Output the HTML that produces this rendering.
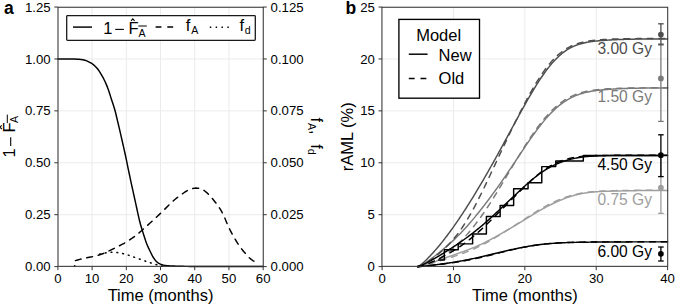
<!DOCTYPE html><html><head><meta charset="utf-8"><style>html,body{margin:0;padding:0;background:#fff;}svg{display:block}</style></head><body>
<svg width="675" height="305" viewBox="0 0 675 305" style="font-family:'Liberation Sans',sans-serif">
<rect width="675" height="305" fill="#fff"/>
<line x1="92.11" y1="7.05" x2="92.11" y2="266.60" stroke="#ebebeb" stroke-width="1.00"/>
<line x1="126.32" y1="7.05" x2="126.32" y2="266.60" stroke="#ebebeb" stroke-width="1.00"/>
<line x1="160.52" y1="7.05" x2="160.52" y2="266.60" stroke="#ebebeb" stroke-width="1.00"/>
<line x1="194.73" y1="7.05" x2="194.73" y2="266.60" stroke="#ebebeb" stroke-width="1.00"/>
<line x1="228.94" y1="7.05" x2="228.94" y2="266.60" stroke="#ebebeb" stroke-width="1.00"/>
<line x1="57.90" y1="214.69" x2="263.15" y2="214.69" stroke="#ebebeb" stroke-width="1.00"/>
<line x1="57.90" y1="162.78" x2="263.15" y2="162.78" stroke="#ebebeb" stroke-width="1.00"/>
<line x1="57.90" y1="110.87" x2="263.15" y2="110.87" stroke="#ebebeb" stroke-width="1.00"/>
<line x1="57.90" y1="58.96" x2="263.15" y2="58.96" stroke="#ebebeb" stroke-width="1.00"/>
<g fill="none" stroke="#000" stroke-width="1.46" stroke-linejoin="round" stroke-linecap="round">
<path d="M57.80,58.90L59.85,58.90L61.90,58.90L63.95,58.90L66.00,58.90L68.25,58.92L70.50,58.96L72.75,59.02L75.00,59.10L76.97,59.20L78.95,59.34L80.93,59.54L82.90,59.80L84.85,60.23L86.80,60.92L88.75,61.80L90.70,62.80L92.17,63.71L93.65,64.85L95.12,66.19L96.60,67.70L98.07,69.49L99.55,71.62L101.03,74.02L102.50,76.60L103.75,78.95L105.00,81.53L106.25,84.35L107.50,87.40L108.47,90.07L109.45,93.04L110.43,96.14L111.40,99.20L112.25,101.76L113.10,104.30L113.95,106.94L114.80,109.80L115.53,112.52L116.25,115.47L116.97,118.54L117.70,121.60L118.45,124.75L119.20,127.93L119.95,131.16L120.70,134.40L121.42,137.56L122.15,140.76L122.88,143.97L123.60,147.20L124.20,149.86L124.80,152.53L125.40,155.23L126.00,158.00L126.45,160.16L126.90,162.37L127.35,164.60L127.80,166.80L128.53,170.29L129.25,173.76L129.97,177.20L130.70,180.60L131.45,184.06L132.20,187.49L132.95,190.89L133.70,194.30L134.45,197.73L135.20,201.17L135.95,204.60L136.70,208.00L137.47,211.56L138.25,215.16L139.03,218.63L139.80,221.80L140.53,224.46L141.25,226.93L141.97,229.28L142.70,231.60L143.67,234.73L144.65,237.81L145.62,240.73L146.60,243.40L147.60,245.86L148.60,248.15L149.60,250.28L150.60,252.30L151.57,254.23L152.55,256.09L153.53,257.78L154.50,259.20L155.47,260.41L156.45,261.50L157.43,262.42L158.40,263.10L159.88,263.87L161.35,264.50L162.83,264.99L164.30,265.30L166.28,265.55L168.25,265.74L170.22,265.89L172.20,266.00L174.15,266.10L176.10,266.19L178.05,266.25L180.00,266.30L182.50,266.34L185.00,266.37L187.50,266.39L190.00,266.40L208.28,266.40L226.55,266.40L244.83,266.40L263.10,266.40"/>
<path d="M75.40,260.60L77.60,259.98L79.80,259.39L82.00,258.83L84.20,258.30L86.78,257.76L89.35,257.27L91.92,256.77L94.50,256.20L96.72,255.63L98.95,254.99L101.18,254.28L103.40,253.50L105.98,252.44L108.55,251.21L111.12,249.90L113.70,248.60L116.30,247.33L118.90,246.05L121.50,244.72L124.10,243.30L126.67,241.78L129.25,240.16L131.82,238.43L134.40,236.60L136.47,235.00L138.55,233.29L140.62,231.50L142.70,229.70L145.15,227.54L147.60,225.32L150.05,223.07L152.50,220.80L154.97,218.50L157.45,216.19L159.93,213.86L162.40,211.50L165.30,208.64L168.20,205.70L171.10,202.84L174.00,200.20L175.45,199.00L176.90,197.86L178.35,196.77L179.80,195.70L181.05,194.78L182.30,193.88L183.55,193.02L184.80,192.20L186.03,191.40L187.25,190.60L188.47,189.91L189.70,189.40L191.27,188.92L192.85,188.51L194.43,188.21L196.00,188.10L197.38,188.16L198.75,188.33L200.12,188.58L201.50,188.90L202.47,189.30L203.45,189.94L204.43,190.71L205.40,191.50L206.70,192.59L208.00,193.81L209.30,195.12L210.60,196.50L211.57,197.59L212.55,198.76L213.53,199.97L214.50,201.20L215.50,202.46L216.50,203.75L217.50,205.08L218.50,206.50L219.38,207.81L220.25,209.19L221.12,210.64L222.00,212.20L222.75,213.64L223.50,215.19L224.25,216.82L225.00,218.50L225.70,220.16L226.40,221.92L227.10,223.67L227.80,225.30L228.88,227.58L229.95,229.73L231.03,231.79L232.10,233.80L233.15,235.74L234.20,237.63L235.25,239.46L236.30,241.20L237.38,242.91L238.45,244.55L239.53,246.12L240.60,247.60L241.93,249.32L243.25,250.95L244.57,252.51L245.90,254.00L247.22,255.48L248.55,256.93L249.88,258.27L251.20,259.40L252.80,260.52L254.40,261.48L256.00,262.35L257.60,263.20L257.85,263.33L258.10,263.46L258.35,263.58L258.60,263.70" stroke-dasharray="5.85,5.85"/>
<path d="M99.50,254.20L100.88,253.85L102.25,253.53L103.62,253.25L105.00,253.00L106.10,252.81L107.20,252.63L108.30,252.48L109.40,252.40L110.70,252.36L112.00,252.33L113.30,252.31L114.60,252.30L115.90,252.37L117.20,252.54L118.50,252.77L119.80,253.00L121.28,253.27L122.75,253.58L124.22,253.92L125.70,254.30L127.00,254.67L128.30,255.10L129.60,255.55L130.90,256.00L132.20,256.46L133.50,256.95L134.80,257.43L136.10,257.90L137.57,258.41L139.05,258.91L140.53,259.40L142.00,259.90L143.50,260.42L145.00,260.96L146.50,261.49L148.00,262.00L149.47,262.49L150.95,262.98L152.43,263.45L153.90,263.90L155.38,264.32L156.85,264.71L158.33,265.10L159.80,265.50L160.60,265.72L161.40,265.95L162.20,266.17L163.00,266.40" stroke-dasharray="0.9,4.95"/>
<circle cx="74.7" cy="265.9" r="0.9" fill="#000" stroke="none"/>
</g>
<rect x="66.7" y="15.6" width="188.6" height="24.7" rx="0.8" fill="#fff" stroke="#1a1a1a" stroke-width="1.3"/>
<line x1="73.00" y1="27.10" x2="92.00" y2="27.10" stroke="#000" stroke-width="1.46"/>
<line x1="155.60" y1="27.10" x2="174.60" y2="27.10" stroke="#000" stroke-width="1.46" stroke-dasharray="5.85,5.85"/>
<line x1="209.80" y1="27.30" x2="229.80" y2="27.30" stroke="#000" stroke-width="1.46" stroke-dasharray="1.46,4.39"/>
<text x="103.2" y="33.7" font-size="16.5" fill="#000">1</text>
<line x1="115.20" y1="29.40" x2="123.90" y2="29.40" stroke="#000" stroke-width="1.10"/>
<text x="128.6" y="33.7" font-size="16.5" fill="#000">F</text>
<path d="M131.0,20.9 L132.8,18.9 L134.6,20.9" fill="none" stroke="#000" stroke-width="1.05"/>
<text x="138.4" y="36.5" font-size="10.6" fill="#000">A</text>
<line x1="138.30" y1="26.00" x2="146.80" y2="26.00" stroke="#000" stroke-width="1.00"/>
<text x="185.7" y="31.4" font-size="16.5" fill="#000">f</text>
<text x="191.2" y="34.4" font-size="10.6" fill="#000">A</text>
<text x="239.4" y="31.4" font-size="16.5" fill="#000">f</text>
<text x="244.8" y="34.4" font-size="10.6" fill="#000">d</text>
<line x1="453.48" y1="7.05" x2="453.48" y2="266.60" stroke="#ebebeb" stroke-width="1.00"/>
<line x1="524.85" y1="7.05" x2="524.85" y2="266.60" stroke="#ebebeb" stroke-width="1.00"/>
<line x1="596.23" y1="7.05" x2="596.23" y2="266.60" stroke="#ebebeb" stroke-width="1.00"/>
<line x1="382.10" y1="214.69" x2="667.60" y2="214.69" stroke="#ebebeb" stroke-width="1.00"/>
<line x1="382.10" y1="162.78" x2="667.60" y2="162.78" stroke="#ebebeb" stroke-width="1.00"/>
<line x1="382.10" y1="110.87" x2="667.60" y2="110.87" stroke="#ebebeb" stroke-width="1.00"/>
<line x1="382.10" y1="58.96" x2="667.60" y2="58.96" stroke="#ebebeb" stroke-width="1.00"/>
<g fill="none" stroke-width="1.46" stroke-linejoin="round" stroke-linecap="round">
<path d="M417.79,266.60L418.83,266.51L419.88,266.19L420.92,265.94L421.97,265.67L423.01,265.39L424.06,265.09L425.10,264.78L426.15,264.46L427.19,264.13L428.24,263.79L429.29,263.45L430.33,263.11L431.38,262.76L432.42,262.40L433.47,262.05L434.51,261.69L435.56,261.32L436.60,260.96L437.65,260.59L438.69,260.23L439.74,259.86L440.78,259.49L441.83,259.12L442.87,258.75L443.92,258.39L444.96,258.02L446.01,257.65L447.05,257.28L448.10,256.92L449.14,256.55L450.19,256.19L451.24,255.83L452.28,255.46L453.33,255.10L454.37,254.73L455.42,254.37L456.46,254.00L457.51,253.64L458.55,253.27L459.60,252.90L460.64,252.53L461.69,252.16L462.73,251.78L463.78,251.40L464.82,251.02L465.87,250.63L466.91,250.24L467.96,249.84L469.00,249.44L470.05,249.03L471.09,248.61L472.14,248.19L473.19,247.76L474.23,247.33L475.28,246.88L476.32,246.43L477.37,245.98L478.41,245.51L479.46,245.04L480.50,244.56L481.55,244.07L482.59,243.57L483.64,243.06L484.68,242.55L485.73,242.03L486.77,241.50L487.82,240.97L488.86,240.42L489.91,239.88L490.95,239.32L492.00,238.77L493.04,238.20L494.09,237.63L495.14,237.06L496.18,236.48L497.23,235.89L498.27,235.30L499.32,234.71L500.36,234.12L501.41,233.52L502.45,232.91L503.50,232.31L504.54,231.70L505.59,231.09L506.63,230.48L507.68,229.87L508.72,229.25L509.77,228.63L510.81,228.02L511.86,227.40L512.90,226.78L513.95,226.16L514.99,225.54L516.04,224.92L517.09,224.29L518.13,223.67L519.18,223.04L520.22,222.41L521.27,221.78L522.31,221.14L523.36,220.51L524.40,219.87L525.45,219.23L526.49,218.59L527.54,217.95L528.58,217.30L529.63,216.66L530.67,216.02L531.72,215.38L532.76,214.74L533.81,214.10L534.85,213.47L535.90,212.84L536.94,212.22L537.99,211.60L539.04,210.99L540.08,210.39L541.13,209.80L542.17,209.21L543.22,208.63L544.26,208.06L545.31,207.49L546.35,206.93L547.40,206.38L548.44,205.84L549.49,205.31L550.53,204.78L551.58,204.26L552.62,203.75L553.67,203.25L554.71,202.75L555.76,202.27L556.80,201.79L557.85,201.33L558.89,200.87L559.94,200.42L560.99,199.98L562.03,199.55L563.08,199.13L564.12,198.73L565.17,198.33L566.21,197.94L567.26,197.57L568.30,197.20L569.35,196.85L570.39,196.51L571.44,196.18L572.48,195.87L573.53,195.57L574.57,195.28L575.62,195.00L576.66,194.73L577.71,194.48L578.75,194.24L579.80,194.01L580.85,193.79L581.89,193.59L582.94,193.39L583.98,193.21L585.03,193.04L586.07,192.88L587.12,192.73L588.16,192.59L589.21,192.45L590.25,192.33L591.30,192.22L592.34,192.11L593.39,192.02L594.43,191.93L595.48,191.84L596.52,191.77L597.57,191.69L598.61,191.63L599.66,191.57L600.70,191.51L601.75,191.46L602.80,191.42L603.84,191.37L604.89,191.33L605.93,191.29L606.98,191.26L608.02,191.22L609.07,191.19L610.11,191.16L611.16,191.13L612.20,191.10L613.25,191.07L614.29,191.05L615.34,191.02L616.38,191.00L617.43,190.97L618.47,190.95L619.52,190.93L620.56,190.91L621.61,190.89L622.65,190.87L623.70,190.85L624.75,190.83L625.79,190.81L626.84,190.79L627.88,190.77L628.93,190.76L629.97,190.74L631.02,190.72L632.06,190.71L633.11,190.69L634.15,190.68L635.20,190.67L636.24,190.65L637.29,190.64L638.33,190.63L639.38,190.62L640.42,190.61L641.47,190.60L642.51,190.59L643.56,190.58L644.60,190.57L645.65,190.57L646.70,190.56L647.74,190.55L648.79,190.55L649.83,190.54L650.88,190.54L651.92,190.53L652.97,190.53L654.01,190.52L655.06,190.52L656.10,190.51L657.15,190.51L658.19,190.51L659.24,190.51L660.28,190.50L661.33,190.50L662.37,190.50L663.42,190.50L664.46,190.49L665.51,190.49L666.55,190.49L667.60,190.49" stroke="#9e9e9e"/>
<path d="M417.79,266.60L418.83,266.46L419.88,266.29L420.92,266.10L421.97,265.89L423.01,265.67L424.06,265.43L425.10,265.18L426.15,264.92L427.19,264.65L428.24,264.37L429.29,264.08L430.33,263.79L431.38,263.50L432.42,263.19L433.47,262.89L434.51,262.58L435.56,262.26L436.60,261.95L437.65,261.63L438.69,261.31L439.74,260.99L440.78,260.66L441.83,260.33L442.87,260.00L443.92,259.67L444.96,259.34L446.01,259.01L447.05,258.67L448.10,258.34L449.14,258.00L450.19,257.66L451.24,257.32L452.28,256.97L453.33,256.62L454.37,256.28L455.42,255.92L456.46,255.57L457.51,255.21L458.55,254.85L459.60,254.48L460.64,254.11L461.69,253.74L462.73,253.36L463.78,252.97L464.82,252.58L465.87,252.18L466.91,251.78L467.96,251.37L469.00,250.95L470.05,250.52L471.09,250.08L472.14,249.64L473.19,249.18L474.23,248.72L475.28,248.25L476.32,247.77L477.37,247.28L478.41,246.78L479.46,246.28L480.50,245.76L481.55,245.24L482.59,244.70L483.64,244.16L484.68,243.61L485.73,243.06L486.77,242.49L487.82,241.92L488.86,241.34L489.91,240.75L490.95,240.16L492.00,239.56L493.04,238.95L494.09,238.34L495.14,237.72L496.18,237.10L497.23,236.47L498.27,235.84L499.32,235.21L500.36,234.56L501.41,233.92L502.45,233.27L503.50,232.62L504.54,231.96L505.59,231.30L506.63,230.64L507.68,229.98L508.72,229.32L509.77,228.66L510.81,227.99L511.86,227.32L512.90,226.66L513.95,225.99L514.99,225.32L516.04,224.65L517.09,223.98L518.13,223.31L519.18,222.63L520.22,221.96L521.27,221.28L522.31,220.61L523.36,219.93L524.40,219.25L525.45,218.57L526.49,217.89L527.54,217.21L528.58,216.53L529.63,215.85L530.67,215.17L531.72,214.50L532.76,213.83L533.81,213.16L534.85,212.50L535.90,211.85L536.94,211.21L537.99,210.57L539.04,209.94L540.08,209.32L541.13,208.71L542.17,208.11L543.22,207.52L544.26,206.94L545.31,206.37L546.35,205.81L547.40,205.26L548.44,204.71L549.49,204.18L550.53,203.66L551.58,203.15L552.62,202.65L553.67,202.15L554.71,201.67L555.76,201.20L556.80,200.74L557.85,200.29L558.89,199.85L559.94,199.42L560.99,199.00L562.03,198.59L563.08,198.19L564.12,197.80L565.17,197.42L566.21,197.06L567.26,196.70L568.30,196.36L569.35,196.04L570.39,195.72L571.44,195.42L572.48,195.13L573.53,194.85L574.57,194.58L575.62,194.33L576.66,194.09L577.71,193.86L578.75,193.64L579.80,193.44L580.85,193.24L581.89,193.06L582.94,192.88L583.98,192.72L585.03,192.56L586.07,192.42L587.12,192.28L588.16,192.15L589.21,192.03L590.25,191.92L591.30,191.81L592.34,191.71L593.39,191.62L594.43,191.54L595.48,191.46L596.52,191.38L597.57,191.31L598.61,191.25L599.66,191.18L600.70,191.13L601.75,191.07L602.80,191.03L603.84,190.98L604.89,190.93L605.93,190.89L606.98,190.86L608.02,190.82L609.07,190.78L610.11,190.75L611.16,190.72L612.20,190.69L613.25,190.67L614.29,190.64L615.34,190.61L616.38,190.59L617.43,190.57L618.47,190.55L619.52,190.53L620.56,190.51L621.61,190.49L622.65,190.48L623.70,190.46L624.75,190.44L625.79,190.43L626.84,190.41L627.88,190.40L628.93,190.39L629.97,190.38L631.02,190.36L632.06,190.35L633.11,190.34L634.15,190.33L635.20,190.32L636.24,190.31L637.29,190.30L638.33,190.29L639.38,190.28L640.42,190.28L641.47,190.27L642.51,190.26L643.56,190.26L644.60,190.25L645.65,190.25L646.70,190.24L647.74,190.23L648.79,190.23L649.83,190.23L650.88,190.22L651.92,190.22L652.97,190.21L654.01,190.21L655.06,190.21L656.10,190.20L657.15,190.20L658.19,190.20L659.24,190.20L660.28,190.19L661.33,190.19L662.37,190.19L663.42,190.19L664.46,190.19L665.51,190.18L666.55,190.18L667.60,190.18" stroke="#9e9e9e" stroke-dasharray="5.85,5.85"/>
<path d="M417.79,266.60L418.83,266.27L419.88,265.85L420.92,265.37L421.97,264.84L423.01,264.26L424.06,263.65L425.10,263.00L426.15,262.33L427.19,261.63L428.24,260.92L429.29,260.18L430.33,259.43L431.38,258.66L432.42,257.88L433.47,257.09L434.51,256.29L435.56,255.48L436.60,254.66L437.65,253.83L438.69,252.99L439.74,252.14L440.78,251.29L441.83,250.43L442.87,249.56L443.92,248.68L444.96,247.80L446.01,246.90L447.05,245.99L448.10,245.08L449.14,244.16L450.19,243.22L451.24,242.27L452.28,241.31L453.33,240.34L454.37,239.36L455.42,238.36L456.46,237.35L457.51,236.33L458.55,235.29L459.60,234.24L460.64,233.17L461.69,232.08L462.73,230.98L463.78,229.87L464.82,228.73L465.87,227.58L466.91,226.42L467.96,225.24L469.00,224.04L470.05,222.84L471.09,221.61L472.14,220.38L473.19,219.13L474.23,217.88L475.28,216.61L476.32,215.33L477.37,214.04L478.41,212.75L479.46,211.44L480.50,210.12L481.55,208.80L482.59,207.47L483.64,206.12L484.68,204.77L485.73,203.41L486.77,202.04L487.82,200.66L488.86,199.27L489.91,197.87L490.95,196.46L492.00,195.05L493.04,193.62L494.09,192.19L495.14,190.74L496.18,189.29L497.23,187.83L498.27,186.36L499.32,184.88L500.36,183.39L501.41,181.90L502.45,180.40L503.50,178.88L504.54,177.36L505.59,175.83L506.63,174.30L507.68,172.76L508.72,171.21L509.77,169.66L510.81,168.10L511.86,166.54L512.90,164.97L513.95,163.40L514.99,161.83L516.04,160.26L517.09,158.69L518.13,157.12L519.18,155.55L520.22,153.98L521.27,152.41L522.31,150.85L523.36,149.30L524.40,147.75L525.45,146.20L526.49,144.67L527.54,143.14L528.58,141.62L529.63,140.11L530.67,138.61L531.72,137.13L532.76,135.66L533.81,134.20L534.85,132.76L535.90,131.33L536.94,129.92L537.99,128.52L539.04,127.15L540.08,125.79L541.13,124.46L542.17,123.15L543.22,121.86L544.26,120.59L545.31,119.35L546.35,118.13L547.40,116.94L548.44,115.78L549.49,114.65L550.53,113.54L551.58,112.46L552.62,111.42L553.67,110.40L554.71,109.41L555.76,108.46L556.80,107.53L557.85,106.64L558.89,105.77L559.94,104.94L560.99,104.13L562.03,103.35L563.08,102.60L564.12,101.88L565.17,101.19L566.21,100.52L567.26,99.88L568.30,99.27L569.35,98.69L570.39,98.13L571.44,97.59L572.48,97.08L573.53,96.60L574.57,96.13L575.62,95.69L576.66,95.27L577.71,94.88L578.75,94.50L579.80,94.14L580.85,93.81L581.89,93.49L582.94,93.19L583.98,92.90L585.03,92.63L586.07,92.38L587.12,92.14L588.16,91.92L589.21,91.71L590.25,91.51L591.30,91.32L592.34,91.15L593.39,90.98L594.43,90.82L595.48,90.67L596.52,90.53L597.57,90.40L598.61,90.28L599.66,90.16L600.70,90.05L601.75,89.94L602.80,89.84L603.84,89.75L604.89,89.66L605.93,89.57L606.98,89.49L608.02,89.41L609.07,89.34L610.11,89.27L611.16,89.20L612.20,89.13L613.25,89.07L614.29,89.01L615.34,88.95L616.38,88.89L617.43,88.84L618.47,88.79L619.52,88.74L620.56,88.69L621.61,88.65L622.65,88.61L623.70,88.57L624.75,88.53L625.79,88.49L626.84,88.45L627.88,88.42L628.93,88.39L629.97,88.35L631.02,88.32L632.06,88.30L633.11,88.27L634.15,88.24L635.20,88.22L636.24,88.20L637.29,88.18L638.33,88.16L639.38,88.14L640.42,88.12L641.47,88.11L642.51,88.09L643.56,88.08L644.60,88.07L645.65,88.06L646.70,88.05L647.74,88.04L648.79,88.03L649.83,88.03L650.88,88.02L651.92,88.02L652.97,88.01L654.01,88.01L655.06,88.01L656.10,88.00L657.15,88.00L658.19,88.00L659.24,88.00L660.28,88.00L661.33,88.00L662.37,88.00L663.42,88.00L664.46,88.00L665.51,88.00L666.55,88.00L667.60,88.00" stroke="#7a7a7a"/>
<path d="M417.79,266.60L418.83,266.48L419.88,266.34L420.92,266.16L421.97,265.95L423.01,265.71L424.06,265.44L425.10,265.14L426.15,264.81L427.19,264.46L428.24,264.07L429.29,263.67L430.33,263.24L431.38,262.79L432.42,262.32L433.47,261.82L434.51,261.30L435.56,260.76L436.60,260.20L437.65,259.62L438.69,259.02L439.74,258.39L440.78,257.74L441.83,257.08L442.87,256.39L443.92,255.68L444.96,254.95L446.01,254.19L447.05,253.42L448.10,252.62L449.14,251.81L450.19,250.97L451.24,250.11L452.28,249.23L453.33,248.32L454.37,247.40L455.42,246.45L456.46,245.48L457.51,244.49L458.55,243.48L459.60,242.45L460.64,241.39L461.69,240.32L462.73,239.22L463.78,238.10L464.82,236.96L465.87,235.79L466.91,234.61L467.96,233.40L469.00,232.18L470.05,230.93L471.09,229.67L472.14,228.38L473.19,227.07L474.23,225.75L475.28,224.41L476.32,223.04L477.37,221.66L478.41,220.26L479.46,218.85L480.50,217.41L481.55,215.95L482.59,214.48L483.64,212.98L484.68,211.46L485.73,209.92L486.77,208.36L487.82,206.77L488.86,205.17L489.91,203.56L490.95,201.92L492.00,200.28L493.04,198.62L494.09,196.94L495.14,195.26L496.18,193.56L497.23,191.86L498.27,190.14L499.32,188.43L500.36,186.70L501.41,184.97L502.45,183.23L503.50,181.49L504.54,179.74L505.59,178.00L506.63,176.24L507.68,174.49L508.72,172.74L509.77,170.98L510.81,169.22L511.86,167.47L512.90,165.72L513.95,163.97L514.99,162.22L516.04,160.48L517.09,158.74L518.13,157.01L519.18,155.28L520.22,153.57L521.27,151.86L522.31,150.17L523.36,148.48L524.40,146.81L525.45,145.16L526.49,143.52L527.54,141.89L528.58,140.29L529.63,138.70L530.67,137.13L531.72,135.59L532.76,134.06L533.81,132.55L534.85,131.07L535.90,129.61L536.94,128.17L537.99,126.76L539.04,125.37L540.08,124.00L541.13,122.66L542.17,121.35L543.22,120.06L544.26,118.80L545.31,117.57L546.35,116.37L547.40,115.19L548.44,114.04L549.49,112.92L550.53,111.84L551.58,110.78L552.62,109.75L553.67,108.75L554.71,107.78L555.76,106.84L556.80,105.93L557.85,105.05L558.89,104.20L559.94,103.39L560.99,102.60L562.03,101.84L563.08,101.11L564.12,100.41L565.17,99.74L566.21,99.10L567.26,98.48L568.30,97.89L569.35,97.33L570.39,96.80L571.44,96.29L572.48,95.80L573.53,95.34L574.57,94.91L575.62,94.49L576.66,94.10L577.71,93.73L578.75,93.38L579.80,93.05L580.85,92.74L581.89,92.45L582.94,92.17L583.98,91.91L585.03,91.66L586.07,91.43L587.12,91.21L588.16,91.01L589.21,90.82L590.25,90.63L591.30,90.46L592.34,90.30L593.39,90.15L594.43,90.01L595.48,89.88L596.52,89.75L597.57,89.63L598.61,89.52L599.66,89.42L600.70,89.32L601.75,89.23L602.80,89.15L603.84,89.07L604.89,88.99L605.93,88.92L606.98,88.85L608.02,88.79L609.07,88.73L610.11,88.67L611.16,88.62L612.20,88.57L613.25,88.52L614.29,88.48L615.34,88.44L616.38,88.40L617.43,88.36L618.47,88.33L619.52,88.29L620.56,88.26L621.61,88.23L622.65,88.21L623.70,88.18L624.75,88.16L625.79,88.13L626.84,88.11L627.88,88.09L628.93,88.07L629.97,88.05L631.02,88.03L632.06,88.02L633.11,88.00L634.15,87.99L635.20,87.97L636.24,87.96L637.29,87.95L638.33,87.94L639.38,87.93L640.42,87.92L641.47,87.91L642.51,87.90L643.56,87.89L644.60,87.88L645.65,87.88L646.70,87.87L647.74,87.86L648.79,87.86L649.83,87.85L650.88,87.85L651.92,87.84L652.97,87.84L654.01,87.84L655.06,87.83L656.10,87.83L657.15,87.83L658.19,87.83L659.24,87.82L660.28,87.82L661.33,87.82L662.37,87.82L663.42,87.82L664.46,87.81L665.51,87.81L666.55,87.81L667.60,87.81" stroke="#7a7a7a" stroke-dasharray="5.85,5.85"/>
<path d="M417.79,266.60L418.83,266.06L419.88,265.39L420.92,264.62L421.97,263.78L423.01,262.89L424.06,261.95L425.10,260.97L426.15,259.96L427.19,258.92L428.24,257.86L429.29,256.77L430.33,255.67L431.38,254.55L432.42,253.41L433.47,252.25L434.51,251.08L435.56,249.89L436.60,248.68L437.65,247.46L438.69,246.22L439.74,244.96L440.78,243.69L441.83,242.40L442.87,241.09L443.92,239.76L444.96,238.42L446.01,237.06L447.05,235.69L448.10,234.30L449.14,232.89L450.19,231.47L451.24,230.04L452.28,228.59L453.33,227.12L454.37,225.64L455.42,224.14L456.46,222.64L457.51,221.11L458.55,219.58L459.60,218.03L460.64,216.47L461.69,214.89L462.73,213.31L463.78,211.71L464.82,210.10L465.87,208.48L466.91,206.85L467.96,205.20L469.00,203.55L470.05,201.88L471.09,200.21L472.14,198.52L473.19,196.82L474.23,195.11L475.28,193.40L476.32,191.67L477.37,189.93L478.41,188.18L479.46,186.42L480.50,184.66L481.55,182.88L482.59,181.10L483.64,179.30L484.68,177.50L485.73,175.69L486.77,173.87L487.82,172.04L488.86,170.20L489.91,168.36L490.95,166.51L492.00,164.65L493.04,162.79L494.09,160.91L495.14,159.03L496.18,157.15L497.23,155.26L498.27,153.36L499.32,151.46L500.36,149.56L501.41,147.65L502.45,145.73L503.50,143.81L504.54,141.89L505.59,139.97L506.63,138.05L507.68,136.12L508.72,134.19L509.77,132.26L510.81,130.34L511.86,128.41L512.90,126.48L513.95,124.56L514.99,122.63L516.04,120.71L517.09,118.80L518.13,116.89L519.18,114.98L520.22,113.08L521.27,111.18L522.31,109.30L523.36,107.42L524.40,105.54L525.45,103.68L526.49,101.83L527.54,100.00L528.58,98.18L529.63,96.37L530.67,94.58L531.72,92.80L532.76,91.04L533.81,89.30L534.85,87.59L535.90,85.89L536.94,84.22L537.99,82.57L539.04,80.95L540.08,79.35L541.13,77.78L542.17,76.24L543.22,74.73L544.26,73.25L545.31,71.80L546.35,70.39L547.40,69.01L548.44,67.66L549.49,66.35L550.53,65.07L551.58,63.83L552.62,62.62L553.67,61.45L554.71,60.32L555.76,59.23L556.80,58.17L557.85,57.16L558.89,56.18L559.94,55.24L560.99,54.34L562.03,53.47L563.08,52.65L564.12,51.86L565.17,51.11L566.21,50.40L567.26,49.72L568.30,49.08L569.35,48.47L570.39,47.90L571.44,47.35L572.48,46.84L573.53,46.36L574.57,45.91L575.62,45.48L576.66,45.08L577.71,44.71L578.75,44.36L579.80,44.04L580.85,43.74L581.89,43.45L582.94,43.19L583.98,42.94L585.03,42.72L586.07,42.50L587.12,42.31L588.16,42.12L589.21,41.95L590.25,41.79L591.30,41.64L592.34,41.50L593.39,41.37L594.43,41.25L595.48,41.13L596.52,41.02L597.57,40.92L598.61,40.82L599.66,40.73L600.70,40.64L601.75,40.56L602.80,40.48L603.84,40.40L604.89,40.32L605.93,40.25L606.98,40.18L608.02,40.12L609.07,40.05L610.11,39.99L611.16,39.93L612.20,39.87L613.25,39.82L614.29,39.77L615.34,39.72L616.38,39.67L617.43,39.62L618.47,39.58L619.52,39.54L620.56,39.50L621.61,39.46L622.65,39.43L623.70,39.40L624.75,39.37L625.79,39.34L626.84,39.31L627.88,39.28L628.93,39.26L629.97,39.24L631.02,39.22L632.06,39.19L633.11,39.18L634.15,39.16L635.20,39.14L636.24,39.13L637.29,39.11L638.33,39.10L639.38,39.09L640.42,39.08L641.47,39.07L642.51,39.06L643.56,39.05L644.60,39.04L645.65,39.03L646.70,39.03L647.74,39.02L648.79,39.02L649.83,39.01L650.88,39.01L651.92,39.01L652.97,39.01L654.01,39.00L655.06,39.00L656.10,39.00L657.15,39.00L658.19,39.00L659.24,39.00L660.28,39.00L661.33,39.00L662.37,39.00L663.42,39.00L664.46,39.00L665.51,39.00L666.55,39.00L667.60,39.00" stroke="#4d4d4d"/>
<path d="M417.79,266.60L418.83,266.30L419.88,265.98L420.92,265.61L421.97,265.17L423.01,264.69L424.06,264.16L425.10,263.60L426.15,262.99L427.19,262.36L428.24,261.69L429.29,260.99L430.33,260.27L431.38,259.53L432.42,258.76L433.47,257.97L434.51,257.16L435.56,256.34L436.60,255.49L437.65,254.63L438.69,253.75L439.74,252.86L440.78,251.94L441.83,251.02L442.87,250.07L443.92,249.10L444.96,248.11L446.01,247.10L447.05,246.07L448.10,245.01L449.14,243.92L450.19,242.80L451.24,241.66L452.28,240.48L453.33,239.28L454.37,238.03L455.42,236.76L456.46,235.45L457.51,234.10L458.55,232.71L459.60,231.29L460.64,229.83L461.69,228.33L462.73,226.78L463.78,225.20L464.82,223.58L465.87,221.92L466.91,220.22L467.96,218.48L469.00,216.71L470.05,214.90L471.09,213.05L472.14,211.17L473.19,209.26L474.23,207.32L475.28,205.35L476.32,203.35L477.37,201.32L478.41,199.27L479.46,197.19L480.50,195.10L481.55,192.98L482.59,190.85L483.64,188.69L484.68,186.53L485.73,184.34L486.77,182.15L487.82,179.94L488.86,177.73L489.91,175.51L490.95,173.28L492.00,171.05L493.04,168.82L494.09,166.58L495.14,164.35L496.18,162.12L497.23,159.89L498.27,157.66L499.32,155.43L500.36,153.21L501.41,150.99L502.45,148.78L503.50,146.57L504.54,144.36L505.59,142.16L506.63,139.97L507.68,137.78L508.72,135.59L509.77,133.42L510.81,131.25L511.86,129.09L512.90,126.94L513.95,124.80L514.99,122.67L516.04,120.56L517.09,118.45L518.13,116.35L519.18,114.27L520.22,112.20L521.27,110.14L522.31,108.10L523.36,106.07L524.40,104.06L525.45,102.06L526.49,100.09L527.54,98.14L528.58,96.21L529.63,94.30L530.67,92.42L531.72,90.56L532.76,88.73L533.81,86.93L534.85,85.15L535.90,83.41L536.94,81.70L537.99,80.02L539.04,78.37L540.08,76.76L541.13,75.19L542.17,73.65L543.22,72.14L544.26,70.68L545.31,69.25L546.35,67.85L547.40,66.50L548.44,65.19L549.49,63.91L550.53,62.67L551.58,61.47L552.62,60.31L553.67,59.19L554.71,58.11L555.76,57.07L556.80,56.07L557.85,55.11L558.89,54.19L559.94,53.30L560.99,52.46L562.03,51.66L563.08,50.89L564.12,50.16L565.17,49.46L566.21,48.80L567.26,48.18L568.30,47.59L569.35,47.03L570.39,46.50L571.44,46.00L572.48,45.53L573.53,45.09L574.57,44.68L575.62,44.29L576.66,43.92L577.71,43.58L578.75,43.25L579.80,42.95L580.85,42.67L581.89,42.41L582.94,42.16L583.98,41.93L585.03,41.72L586.07,41.52L587.12,41.33L588.16,41.15L589.21,40.99L590.25,40.84L591.30,40.69L592.34,40.56L593.39,40.43L594.43,40.31L595.48,40.20L596.52,40.10L597.57,40.00L598.61,39.91L599.66,39.82L600.70,39.74L601.75,39.66L602.80,39.59L603.84,39.52L604.89,39.46L605.93,39.40L606.98,39.34L608.02,39.29L609.07,39.24L610.11,39.19L611.16,39.14L612.20,39.10L613.25,39.06L614.29,39.02L615.34,38.98L616.38,38.95L617.43,38.92L618.47,38.89L619.52,38.87L620.56,38.84L621.61,38.82L622.65,38.79L623.70,38.77L624.75,38.75L625.79,38.74L626.84,38.72L627.88,38.70L628.93,38.69L629.97,38.67L631.02,38.66L632.06,38.65L633.11,38.64L634.15,38.63L635.20,38.62L636.24,38.61L637.29,38.60L638.33,38.59L639.38,38.58L640.42,38.57L641.47,38.57L642.51,38.56L643.56,38.56L644.60,38.55L645.65,38.55L646.70,38.54L647.74,38.54L648.79,38.53L649.83,38.53L650.88,38.53L651.92,38.52L652.97,38.52L654.01,38.52L655.06,38.51L656.10,38.51L657.15,38.51L658.19,38.51L659.24,38.51L660.28,38.51L661.33,38.50L662.37,38.50L663.42,38.50L664.46,38.50L665.51,38.50L666.55,38.50L667.60,38.50" stroke="#4d4d4d" stroke-dasharray="5.85,5.85"/>
<path d="M417.79,266.60L418.83,266.54L419.88,266.47L420.92,266.39L421.97,266.31L423.01,266.21L424.06,266.11L425.10,266.00L426.15,265.89L427.19,265.77L428.24,265.65L429.29,265.53L430.33,265.41L431.38,265.28L432.42,265.15L433.47,265.02L434.51,264.89L435.56,264.76L436.60,264.63L437.65,264.49L438.69,264.36L439.74,264.22L440.78,264.08L441.83,263.95L442.87,263.80L443.92,263.66L444.96,263.52L446.01,263.37L447.05,263.22L448.10,263.07L449.14,262.92L450.19,262.76L451.24,262.60L452.28,262.44L453.33,262.27L454.37,262.11L455.42,261.94L456.46,261.76L457.51,261.59L458.55,261.41L459.60,261.23L460.64,261.05L461.69,260.86L462.73,260.67L463.78,260.48L464.82,260.28L465.87,260.08L466.91,259.88L467.96,259.67L469.00,259.46L470.05,259.25L471.09,259.04L472.14,258.82L473.19,258.60L474.23,258.38L475.28,258.15L476.32,257.92L477.37,257.69L478.41,257.46L479.46,257.22L480.50,256.98L481.55,256.74L482.59,256.50L483.64,256.26L484.68,256.01L485.73,255.77L486.77,255.52L487.82,255.27L488.86,255.02L489.91,254.77L490.95,254.52L492.00,254.27L493.04,254.02L494.09,253.76L495.14,253.51L496.18,253.26L497.23,253.00L498.27,252.75L499.32,252.50L500.36,252.25L501.41,252.00L502.45,251.75L503.50,251.50L504.54,251.25L505.59,251.01L506.63,250.77L507.68,250.52L508.72,250.28L509.77,250.05L510.81,249.81L511.86,249.58L512.90,249.35L513.95,249.12L514.99,248.89L516.04,248.67L517.09,248.45L518.13,248.23L519.18,248.02L520.22,247.81L521.27,247.60L522.31,247.40L523.36,247.20L524.40,247.01L525.45,246.81L526.49,246.63L527.54,246.44L528.58,246.26L529.63,246.09L530.67,245.92L531.72,245.75L532.76,245.59L533.81,245.43L534.85,245.28L535.90,245.13L536.94,244.98L537.99,244.84L539.04,244.71L540.08,244.58L541.13,244.45L542.17,244.33L543.22,244.22L544.26,244.11L545.31,244.00L546.35,243.89L547.40,243.80L548.44,243.70L549.49,243.61L550.53,243.52L551.58,243.44L552.62,243.36L553.67,243.29L554.71,243.22L555.76,243.15L556.80,243.09L557.85,243.02L558.89,242.97L559.94,242.91L560.99,242.86L562.03,242.81L563.08,242.76L564.12,242.72L565.17,242.67L566.21,242.63L567.26,242.60L568.30,242.56L569.35,242.53L570.39,242.50L571.44,242.47L572.48,242.44L573.53,242.41L574.57,242.38L575.62,242.36L576.66,242.34L577.71,242.32L578.75,242.30L579.80,242.28L580.85,242.26L581.89,242.24L582.94,242.22L583.98,242.21L585.03,242.19L586.07,242.18L587.12,242.16L588.16,242.15L589.21,242.14L590.25,242.13L591.30,242.11L592.34,242.10L593.39,242.09L594.43,242.08L595.48,242.07L596.52,242.06L597.57,242.05L598.61,242.04L599.66,242.03L600.70,242.02L601.75,242.02L602.80,242.01L603.84,242.00L604.89,241.99L605.93,241.99L606.98,241.98L608.02,241.97L609.07,241.97L610.11,241.96L611.16,241.96L612.20,241.95L613.25,241.95L614.29,241.94L615.34,241.94L616.38,241.93L617.43,241.93L618.47,241.93L619.52,241.92L620.56,241.92L621.61,241.92L622.65,241.91L623.70,241.91L624.75,241.91L625.79,241.90L626.84,241.90L627.88,241.90L628.93,241.90L629.97,241.89L631.02,241.89L632.06,241.89L633.11,241.89L634.15,241.89L635.20,241.89L636.24,241.89L637.29,241.88L638.33,241.88L639.38,241.88L640.42,241.88L641.47,241.88L642.51,241.88L643.56,241.88L644.60,241.88L645.65,241.88L646.70,241.88L647.74,241.88L648.79,241.88L649.83,241.88L650.88,241.88L651.92,241.88L652.97,241.88L654.01,241.88L655.06,241.88L656.10,241.88L657.15,241.88L658.19,241.88L659.24,241.88L660.28,241.88L661.33,241.88L662.37,241.88L663.42,241.88L664.46,241.88L665.51,241.88L666.55,241.88L667.60,241.88" stroke="#000000"/>
<path d="M417.79,266.60L418.83,266.55L419.88,266.49L420.92,266.42L421.97,266.35L423.01,266.26L424.06,266.17L425.10,266.08L426.15,265.98L427.19,265.87L428.24,265.77L429.29,265.66L430.33,265.54L431.38,265.43L432.42,265.31L433.47,265.19L434.51,265.07L435.56,264.95L436.60,264.82L437.65,264.70L438.69,264.57L439.74,264.45L440.78,264.32L441.83,264.19L442.87,264.06L443.92,263.92L444.96,263.79L446.01,263.65L447.05,263.51L448.10,263.37L449.14,263.23L450.19,263.08L451.24,262.93L452.28,262.78L453.33,262.63L454.37,262.47L455.42,262.31L456.46,262.15L457.51,261.98L458.55,261.81L459.60,261.64L460.64,261.46L461.69,261.29L462.73,261.10L463.78,260.92L464.82,260.73L465.87,260.53L466.91,260.34L467.96,260.14L469.00,259.93L470.05,259.72L471.09,259.51L472.14,259.29L473.19,259.07L474.23,258.85L475.28,258.62L476.32,258.39L477.37,258.16L478.41,257.93L479.46,257.69L480.50,257.45L481.55,257.21L482.59,256.96L483.64,256.71L484.68,256.47L485.73,256.21L486.77,255.96L487.82,255.71L488.86,255.45L489.91,255.20L490.95,254.94L492.00,254.68L493.04,254.42L494.09,254.16L495.14,253.90L496.18,253.64L497.23,253.38L498.27,253.12L499.32,252.86L500.36,252.60L501.41,252.34L502.45,252.08L503.50,251.82L504.54,251.57L505.59,251.31L506.63,251.06L507.68,250.81L508.72,250.56L509.77,250.31L510.81,250.07L511.86,249.83L512.90,249.59L513.95,249.35L514.99,249.11L516.04,248.88L517.09,248.65L518.13,248.43L519.18,248.20L520.22,247.98L521.27,247.77L522.31,247.56L523.36,247.35L524.40,247.14L525.45,246.94L526.49,246.75L527.54,246.55L528.58,246.37L529.63,246.18L530.67,246.00L531.72,245.83L532.76,245.66L533.81,245.49L534.85,245.33L535.90,245.17L536.94,245.02L537.99,244.87L539.04,244.73L540.08,244.59L541.13,244.46L542.17,244.33L543.22,244.21L544.26,244.09L545.31,243.98L546.35,243.87L547.40,243.76L548.44,243.66L549.49,243.57L550.53,243.47L551.58,243.39L552.62,243.30L553.67,243.22L554.71,243.15L555.76,243.08L556.80,243.01L557.85,242.94L558.89,242.88L559.94,242.82L560.99,242.77L562.03,242.71L563.08,242.66L564.12,242.62L565.17,242.57L566.21,242.53L567.26,242.49L568.30,242.46L569.35,242.42L570.39,242.39L571.44,242.36L572.48,242.33L573.53,242.30L574.57,242.28L575.62,242.25L576.66,242.23L577.71,242.21L578.75,242.19L579.80,242.17L580.85,242.15L581.89,242.13L582.94,242.12L583.98,242.10L585.03,242.08L586.07,242.07L587.12,242.06L588.16,242.04L589.21,242.03L590.25,242.02L591.30,242.01L592.34,242.00L593.39,241.98L594.43,241.97L595.48,241.96L596.52,241.95L597.57,241.94L598.61,241.94L599.66,241.93L600.70,241.92L601.75,241.91L602.80,241.90L603.84,241.90L604.89,241.89L605.93,241.88L606.98,241.88L608.02,241.87L609.07,241.86L610.11,241.86L611.16,241.85L612.20,241.85L613.25,241.84L614.29,241.84L615.34,241.83L616.38,241.83L617.43,241.83L618.47,241.82L619.52,241.82L620.56,241.82L621.61,241.81L622.65,241.81L623.70,241.81L624.75,241.80L625.79,241.80L626.84,241.80L627.88,241.80L628.93,241.79L629.97,241.79L631.02,241.79L632.06,241.79L633.11,241.79L634.15,241.78L635.20,241.78L636.24,241.78L637.29,241.78L638.33,241.78L639.38,241.78L640.42,241.78L641.47,241.78L642.51,241.78L643.56,241.78L644.60,241.78L645.65,241.78L646.70,241.78L647.74,241.78L648.79,241.78L649.83,241.78L650.88,241.78L651.92,241.78L652.97,241.78L654.01,241.78L655.06,241.78L656.10,241.78L657.15,241.78L658.19,241.78L659.24,241.78L660.28,241.78L661.33,241.78L662.37,241.78L663.42,241.78L664.46,241.78L665.51,241.78L666.55,241.78L667.60,241.78" stroke="#000000" stroke-dasharray="5.85,5.85"/>
<path d="M417.79,266.60L418.83,266.32L419.88,265.96L420.92,265.56L421.97,265.12L423.01,264.65L424.06,264.16L425.10,263.66L426.15,263.13L427.19,262.59L428.24,262.03L429.29,261.47L430.33,260.89L431.38,260.31L432.42,259.72L433.47,259.12L434.51,258.52L435.56,257.91L436.60,257.30L437.65,256.68L438.69,256.06L439.74,255.43L440.78,254.80L441.83,254.16L442.87,253.52L443.92,252.88L444.96,252.23L446.01,251.58L447.05,250.93L448.10,250.27L449.14,249.60L450.19,248.94L451.24,248.26L452.28,247.59L453.33,246.90L454.37,246.22L455.42,245.52L456.46,244.83L457.51,244.12L458.55,243.41L459.60,242.69L460.64,241.97L461.69,241.24L462.73,240.50L463.78,239.76L464.82,239.01L465.87,238.26L466.91,237.49L467.96,236.72L469.00,235.94L470.05,235.16L471.09,234.36L472.14,233.56L473.19,232.76L474.23,231.94L475.28,231.11L476.32,230.28L477.37,229.44L478.41,228.59L479.46,227.73L480.50,226.87L481.55,225.99L482.59,225.11L483.64,224.21L484.68,223.31L485.73,222.40L486.77,221.48L487.82,220.55L488.86,219.61L489.91,218.66L490.95,217.71L492.00,216.75L493.04,215.79L494.09,214.82L495.14,213.86L496.18,212.88L497.23,211.91L498.27,210.93L499.32,209.95L500.36,208.97L501.41,207.99L502.45,207.00L503.50,206.02L504.54,205.03L505.59,204.04L506.63,203.05L507.68,202.06L508.72,201.07L509.77,200.08L510.81,199.09L511.86,198.11L512.90,197.12L513.95,196.13L514.99,195.15L516.04,194.17L517.09,193.19L518.13,192.22L519.18,191.24L520.22,190.28L521.27,189.31L522.31,188.35L523.36,187.40L524.40,186.45L525.45,185.51L526.49,184.57L527.54,183.64L528.58,182.73L529.63,181.82L530.67,180.92L531.72,180.03L532.76,179.16L533.81,178.30L534.85,177.45L535.90,176.62L536.94,175.81L537.99,175.01L539.04,174.23L540.08,173.47L541.13,172.72L542.17,172.00L543.22,171.30L544.26,170.61L545.31,169.95L546.35,169.30L547.40,168.68L548.44,168.07L549.49,167.49L550.53,166.92L551.58,166.37L552.62,165.84L553.67,165.33L554.71,164.84L555.76,164.37L556.80,163.91L557.85,163.47L558.89,163.05L559.94,162.64L560.99,162.25L562.03,161.87L563.08,161.51L564.12,161.16L565.17,160.83L566.21,160.50L567.26,160.20L568.30,159.90L569.35,159.62L570.39,159.35L571.44,159.09L572.48,158.84L573.53,158.60L574.57,158.38L575.62,158.16L576.66,157.96L577.71,157.77L578.75,157.59L579.80,157.42L580.85,157.27L581.89,157.12L582.94,156.98L583.98,156.86L585.03,156.74L586.07,156.63L587.12,156.53L588.16,156.44L589.21,156.36L590.25,156.28L591.30,156.21L592.34,156.15L593.39,156.09L594.43,156.03L595.48,155.98L596.52,155.94L597.57,155.90L598.61,155.86L599.66,155.82L600.70,155.79L601.75,155.76L602.80,155.73L603.84,155.71L604.89,155.68L605.93,155.66L606.98,155.64L608.02,155.62L609.07,155.61L610.11,155.59L611.16,155.57L612.20,155.56L613.25,155.55L614.29,155.53L615.34,155.52L616.38,155.51L617.43,155.50L618.47,155.49L619.52,155.48L620.56,155.48L621.61,155.47L622.65,155.46L623.70,155.45L624.75,155.45L625.79,155.44L626.84,155.44L627.88,155.43L628.93,155.43L629.97,155.43L631.02,155.42L632.06,155.42L633.11,155.42L634.15,155.42L635.20,155.42L636.24,155.42L637.29,155.42L638.33,155.42L639.38,155.42L640.42,155.42L641.47,155.42L642.51,155.42L643.56,155.42L644.60,155.42L645.65,155.42L646.70,155.42L647.74,155.42L648.79,155.42L649.83,155.42L650.88,155.42L651.92,155.42L652.97,155.42L654.01,155.42L655.06,155.42L656.10,155.42L657.15,155.42L658.19,155.42L659.24,155.42L660.28,155.42L661.33,155.42L662.37,155.42L663.42,155.42L664.46,155.42L665.51,155.42L666.55,155.42L667.60,155.42" stroke="#000000"/>
<path d="M417.79,266.60L418.83,266.44L419.88,266.24L420.92,265.99L421.97,265.71L423.01,265.41L424.06,265.08L425.10,264.72L426.15,264.35L427.19,263.96L428.24,263.55L429.29,263.13L430.33,262.70L431.38,262.25L432.42,261.79L433.47,261.32L434.51,260.84L435.56,260.36L436.60,259.86L437.65,259.36L438.69,258.84L439.74,258.32L440.78,257.79L441.83,257.25L442.87,256.71L443.92,256.15L444.96,255.59L446.01,255.03L447.05,254.45L448.10,253.87L449.14,253.28L450.19,252.68L451.24,252.08L452.28,251.46L453.33,250.83L454.37,250.20L455.42,249.55L456.46,248.89L457.51,248.21L458.55,247.53L459.60,246.83L460.64,246.12L461.69,245.39L462.73,244.66L463.78,243.90L464.82,243.13L465.87,242.35L466.91,241.56L467.96,240.75L469.00,239.94L470.05,239.10L471.09,238.26L472.14,237.40L473.19,236.54L474.23,235.66L475.28,234.77L476.32,233.86L477.37,232.95L478.41,232.03L479.46,231.09L480.50,230.15L481.55,229.20L482.59,228.23L483.64,227.26L484.68,226.28L485.73,225.28L486.77,224.28L487.82,223.27L488.86,222.26L489.91,221.24L490.95,220.21L492.00,219.18L493.04,218.15L494.09,217.11L495.14,216.07L496.18,215.03L497.23,213.99L498.27,212.95L499.32,211.90L500.36,210.86L501.41,209.81L502.45,208.77L503.50,207.72L504.54,206.67L505.59,205.62L506.63,204.57L507.68,203.52L508.72,202.47L509.77,201.42L510.81,200.37L511.86,199.32L512.90,198.27L513.95,197.23L514.99,196.18L516.04,195.14L517.09,194.10L518.13,193.06L519.18,192.02L520.22,190.99L521.27,189.96L522.31,188.93L523.36,187.91L524.40,186.90L525.45,185.89L526.49,184.89L527.54,183.89L528.58,182.90L529.63,181.93L530.67,180.96L531.72,180.01L532.76,179.07L533.81,178.14L534.85,177.22L535.90,176.33L536.94,175.44L537.99,174.58L539.04,173.73L540.08,172.91L541.13,172.10L542.17,171.32L543.22,170.55L544.26,169.81L545.31,169.09L546.35,168.39L547.40,167.71L548.44,167.05L549.49,166.42L550.53,165.81L551.58,165.23L552.62,164.67L553.67,164.13L554.71,163.61L555.76,163.11L556.80,162.64L557.85,162.19L558.89,161.76L559.94,161.34L560.99,160.95L562.03,160.58L563.08,160.22L564.12,159.89L565.17,159.57L566.21,159.26L567.26,158.98L568.30,158.71L569.35,158.46L570.39,158.22L571.44,157.99L572.48,157.78L573.53,157.58L574.57,157.39L575.62,157.22L576.66,157.05L577.71,156.90L578.75,156.76L579.80,156.63L580.85,156.51L581.89,156.40L582.94,156.30L583.98,156.21L585.03,156.13L586.07,156.05L587.12,155.98L588.16,155.92L589.21,155.86L590.25,155.81L591.30,155.76L592.34,155.71L593.39,155.67L594.43,155.64L595.48,155.60L596.52,155.57L597.57,155.55L598.61,155.52L599.66,155.50L600.70,155.48L601.75,155.46L602.80,155.44L603.84,155.42L604.89,155.41L605.93,155.39L606.98,155.38L608.02,155.37L609.07,155.36L610.11,155.35L611.16,155.34L612.20,155.33L613.25,155.32L614.29,155.31L615.34,155.30L616.38,155.30L617.43,155.29L618.47,155.28L619.52,155.28L620.56,155.27L621.61,155.27L622.65,155.26L623.70,155.26L624.75,155.26L625.79,155.25L626.84,155.25L627.88,155.25L628.93,155.25L629.97,155.24L631.02,155.24L632.06,155.24L633.11,155.24L634.15,155.24L635.20,155.24L636.24,155.24L637.29,155.24L638.33,155.24L639.38,155.24L640.42,155.24L641.47,155.24L642.51,155.24L643.56,155.24L644.60,155.24L645.65,155.24L646.70,155.24L647.74,155.24L648.79,155.24L649.83,155.24L650.88,155.24L651.92,155.24L652.97,155.24L654.01,155.24L655.06,155.24L656.10,155.24L657.15,155.24L658.19,155.24L659.24,155.24L660.28,155.24L661.33,155.24L662.37,155.24L663.42,155.24L664.46,155.24L665.51,155.24L666.55,155.24L667.60,155.24" stroke="#000000" stroke-dasharray="5.85,5.85"/>
<path d="M438.49,259.96L444.34,259.96L444.34,249.68L458.19,249.68L458.19,243.86L472.60,243.86L472.60,233.90L486.38,233.90L486.38,216.56L500.15,216.56L500.15,205.55L513.64,205.55L513.64,188.74L528.06,188.74L528.06,182.82L541.77,182.82L541.77,166.62L555.76,166.62L555.76,161.02L583.31,161.02L583.31,155.51L662.60,155.51" stroke="#000"/>
</g>
<line x1="660.90" y1="44.00" x2="660.90" y2="121.40" stroke="#7a7a7a" stroke-width="1.30"/>
<line x1="658.10" y1="44.00" x2="663.70" y2="44.00" stroke="#7a7a7a" stroke-width="1.30"/>
<line x1="658.10" y1="121.40" x2="663.70" y2="121.40" stroke="#7a7a7a" stroke-width="1.30"/>
<circle cx="660.90" cy="78.40" r="2.85" fill="#7a7a7a"/>
<line x1="660.90" y1="23.80" x2="660.90" y2="44.80" stroke="#4d4d4d" stroke-width="1.30"/>
<line x1="658.10" y1="23.80" x2="663.70" y2="23.80" stroke="#4d4d4d" stroke-width="1.30"/>
<line x1="658.10" y1="44.80" x2="663.70" y2="44.80" stroke="#4d4d4d" stroke-width="1.30"/>
<circle cx="660.90" cy="34.50" r="2.85" fill="#4d4d4d"/>
<line x1="660.90" y1="155.00" x2="660.90" y2="213.40" stroke="#9e9e9e" stroke-width="1.30"/>
<line x1="658.10" y1="155.00" x2="663.70" y2="155.00" stroke="#9e9e9e" stroke-width="1.30"/>
<line x1="658.10" y1="213.40" x2="663.70" y2="213.40" stroke="#9e9e9e" stroke-width="1.30"/>
<circle cx="660.90" cy="187.50" r="2.85" fill="#9e9e9e"/>
<line x1="660.90" y1="134.80" x2="660.90" y2="176.60" stroke="#000000" stroke-width="1.30"/>
<line x1="658.10" y1="134.80" x2="663.70" y2="134.80" stroke="#000000" stroke-width="1.30"/>
<line x1="658.10" y1="176.60" x2="663.70" y2="176.60" stroke="#000000" stroke-width="1.30"/>
<circle cx="660.90" cy="155.20" r="2.85" fill="#000000"/>
<line x1="660.90" y1="247.00" x2="660.90" y2="261.00" stroke="#000000" stroke-width="1.30"/>
<line x1="658.10" y1="247.00" x2="663.70" y2="247.00" stroke="#000000" stroke-width="1.30"/>
<line x1="658.10" y1="261.00" x2="663.70" y2="261.00" stroke="#000000" stroke-width="1.30"/>
<circle cx="660.90" cy="253.90" r="2.85" fill="#000000"/>
<text x="597.4" y="54.20" font-size="15.6" fill="#4d4d4d">3.00 Gy</text>
<text x="597.4" y="102.00" font-size="15.6" fill="#7a7a7a">1.50 Gy</text>
<text x="597.4" y="170.30" font-size="15.6" fill="#000000">4.50 Gy</text>
<text x="597.4" y="204.90" font-size="15.6" fill="#9e9e9e">0.75 Gy</text>
<text x="597.4" y="257.00" font-size="15.6" fill="#000000">6.00 Gy</text>
<rect x="398.9" y="19.4" width="80.6" height="78.8" fill="#fff" stroke="#000" stroke-width="1.35"/>
<text x="416.2" y="40.7" font-size="16.5" fill="#000">Model</text>
<line x1="408.80" y1="54.20" x2="427.60" y2="54.20" stroke="#000" stroke-width="1.46"/>
<text x="438.6" y="60.7" font-size="16.5" fill="#000">New</text>
<line x1="408.80" y1="78.40" x2="427.60" y2="78.40" stroke="#000" stroke-width="1.46" stroke-dasharray="5.85,5.85"/>
<text x="438.6" y="84.4" font-size="16.5" fill="#000">Old</text>
<rect x="58.00" y="7.25" width="205.25" height="259.10" fill="none" stroke="#333333" stroke-width="1.05"/>
<rect x="381.95" y="7.25" width="285.75" height="259.10" fill="none" stroke="#333333" stroke-width="1.05"/>
<line x1="54.30" y1="266.60" x2="57.90" y2="266.60" stroke="#333333" stroke-width="1.00"/>
<text x="50.60" y="271.20" font-size="13.2" text-anchor="end" fill="#000">0.00</text>
<line x1="54.30" y1="214.69" x2="57.90" y2="214.69" stroke="#333333" stroke-width="1.00"/>
<text x="50.60" y="219.29" font-size="13.2" text-anchor="end" fill="#000">0.25</text>
<line x1="54.30" y1="162.78" x2="57.90" y2="162.78" stroke="#333333" stroke-width="1.00"/>
<text x="50.60" y="167.38" font-size="13.2" text-anchor="end" fill="#000">0.50</text>
<line x1="54.30" y1="110.87" x2="57.90" y2="110.87" stroke="#333333" stroke-width="1.00"/>
<text x="50.60" y="115.47" font-size="13.2" text-anchor="end" fill="#000">0.75</text>
<line x1="54.30" y1="58.96" x2="57.90" y2="58.96" stroke="#333333" stroke-width="1.00"/>
<text x="50.60" y="63.56" font-size="13.2" text-anchor="end" fill="#000">1.00</text>
<line x1="54.30" y1="7.05" x2="57.90" y2="7.05" stroke="#333333" stroke-width="1.00"/>
<text x="50.60" y="11.65" font-size="13.2" text-anchor="end" fill="#000">1.25</text>
<line x1="263.15" y1="266.60" x2="266.75" y2="266.60" stroke="#333333" stroke-width="1.00"/>
<text x="270.55" y="271.20" font-size="13.2" text-anchor="start" fill="#000">0.000</text>
<line x1="263.15" y1="214.69" x2="266.75" y2="214.69" stroke="#333333" stroke-width="1.00"/>
<text x="270.55" y="219.29" font-size="13.2" text-anchor="start" fill="#000">0.025</text>
<line x1="263.15" y1="162.78" x2="266.75" y2="162.78" stroke="#333333" stroke-width="1.00"/>
<text x="270.55" y="167.38" font-size="13.2" text-anchor="start" fill="#000">0.050</text>
<line x1="263.15" y1="110.87" x2="266.75" y2="110.87" stroke="#333333" stroke-width="1.00"/>
<text x="270.55" y="115.47" font-size="13.2" text-anchor="start" fill="#000">0.075</text>
<line x1="263.15" y1="58.96" x2="266.75" y2="58.96" stroke="#333333" stroke-width="1.00"/>
<text x="270.55" y="63.56" font-size="13.2" text-anchor="start" fill="#000">0.100</text>
<line x1="263.15" y1="7.05" x2="266.75" y2="7.05" stroke="#333333" stroke-width="1.00"/>
<text x="270.55" y="11.65" font-size="13.2" text-anchor="start" fill="#000">0.125</text>
<line x1="57.90" y1="266.60" x2="57.90" y2="270.20" stroke="#333333" stroke-width="1.00"/>
<text x="57.90" y="283.10" font-size="13.2" text-anchor="middle" fill="#000">0</text>
<line x1="92.11" y1="266.60" x2="92.11" y2="270.20" stroke="#333333" stroke-width="1.00"/>
<text x="92.11" y="283.10" font-size="13.2" text-anchor="middle" fill="#000">10</text>
<line x1="126.32" y1="266.60" x2="126.32" y2="270.20" stroke="#333333" stroke-width="1.00"/>
<text x="126.32" y="283.10" font-size="13.2" text-anchor="middle" fill="#000">20</text>
<line x1="160.52" y1="266.60" x2="160.52" y2="270.20" stroke="#333333" stroke-width="1.00"/>
<text x="160.52" y="283.10" font-size="13.2" text-anchor="middle" fill="#000">30</text>
<line x1="194.73" y1="266.60" x2="194.73" y2="270.20" stroke="#333333" stroke-width="1.00"/>
<text x="194.73" y="283.10" font-size="13.2" text-anchor="middle" fill="#000">40</text>
<line x1="228.94" y1="266.60" x2="228.94" y2="270.20" stroke="#333333" stroke-width="1.00"/>
<text x="228.94" y="283.10" font-size="13.2" text-anchor="middle" fill="#000">50</text>
<line x1="263.15" y1="266.60" x2="263.15" y2="270.20" stroke="#333333" stroke-width="1.00"/>
<text x="263.15" y="283.10" font-size="13.2" text-anchor="middle" fill="#000">60</text>
<line x1="378.50" y1="266.60" x2="382.10" y2="266.60" stroke="#333333" stroke-width="1.00"/>
<text x="374.80" y="271.20" font-size="13.2" text-anchor="end" fill="#000">0</text>
<line x1="378.50" y1="214.69" x2="382.10" y2="214.69" stroke="#333333" stroke-width="1.00"/>
<text x="374.80" y="219.29" font-size="13.2" text-anchor="end" fill="#000">5</text>
<line x1="378.50" y1="162.78" x2="382.10" y2="162.78" stroke="#333333" stroke-width="1.00"/>
<text x="374.80" y="167.38" font-size="13.2" text-anchor="end" fill="#000">10</text>
<line x1="378.50" y1="110.87" x2="382.10" y2="110.87" stroke="#333333" stroke-width="1.00"/>
<text x="374.80" y="115.47" font-size="13.2" text-anchor="end" fill="#000">15</text>
<line x1="378.50" y1="58.96" x2="382.10" y2="58.96" stroke="#333333" stroke-width="1.00"/>
<text x="374.80" y="63.56" font-size="13.2" text-anchor="end" fill="#000">20</text>
<line x1="378.50" y1="7.05" x2="382.10" y2="7.05" stroke="#333333" stroke-width="1.00"/>
<text x="374.80" y="11.65" font-size="13.2" text-anchor="end" fill="#000">25</text>
<line x1="382.10" y1="266.60" x2="382.10" y2="270.20" stroke="#333333" stroke-width="1.00"/>
<text x="382.10" y="283.10" font-size="13.2" text-anchor="middle" fill="#000">0</text>
<line x1="453.48" y1="266.60" x2="453.48" y2="270.20" stroke="#333333" stroke-width="1.00"/>
<text x="453.48" y="283.10" font-size="13.2" text-anchor="middle" fill="#000">10</text>
<line x1="524.85" y1="266.60" x2="524.85" y2="270.20" stroke="#333333" stroke-width="1.00"/>
<text x="524.85" y="283.10" font-size="13.2" text-anchor="middle" fill="#000">20</text>
<line x1="596.23" y1="266.60" x2="596.23" y2="270.20" stroke="#333333" stroke-width="1.00"/>
<text x="596.23" y="283.10" font-size="13.2" text-anchor="middle" fill="#000">30</text>
<line x1="667.60" y1="266.60" x2="667.60" y2="270.20" stroke="#333333" stroke-width="1.00"/>
<text x="667.60" y="283.10" font-size="13.2" text-anchor="middle" fill="#000">40</text>
<text x="160.52" y="301.0" font-size="16.5" text-anchor="middle" fill="#000">Time (months)</text>
<text x="524.85" y="301.0" font-size="16.5" text-anchor="middle" fill="#000">Time (months)</text>
<text transform="translate(352.6,136.83) rotate(-90)" font-size="16.5" text-anchor="middle" fill="#000">rAML (%)</text>
<g transform="translate(15.3,157.6) rotate(-90)">
<text x="0" y="0" font-size="16.5" fill="#000">1</text>
<line x1="11.6" y1="-4.6" x2="20.3" y2="-4.6" stroke="#000" stroke-width="1.1"/>
<text x="25" y="0" font-size="16.5" fill="#000">F</text>
<path d="M28.6,-13.5 L30.4,-15.5 L32.2,-13.5" fill="none" stroke="#000" stroke-width="1.05"/>
<text x="34.6" y="2.8" font-size="10.6" fill="#000">A</text>
<line x1="34.5" y1="-8" x2="43" y2="-8" stroke="#000" stroke-width="1.0"/>
</g>
<g transform="translate(310.5,117.5) rotate(90)">
<text x="0" y="0" font-size="16.5" fill="#000">f</text>
<text x="5.4" y="3" font-size="10.6" fill="#000">A</text>
<text x="12.6" y="0" font-size="16.5" fill="#000">,</text>
<text x="26.7" y="0" font-size="16.5" fill="#000">f</text>
<text x="31.2" y="3" font-size="10.6" fill="#000">d</text>
</g>
<text x="4" y="13.8" font-size="17.5" font-weight="bold" fill="#000">a</text>
<text x="345.5" y="13.7" font-size="17.5" font-weight="bold" fill="#000">b</text>
</svg></body></html>
